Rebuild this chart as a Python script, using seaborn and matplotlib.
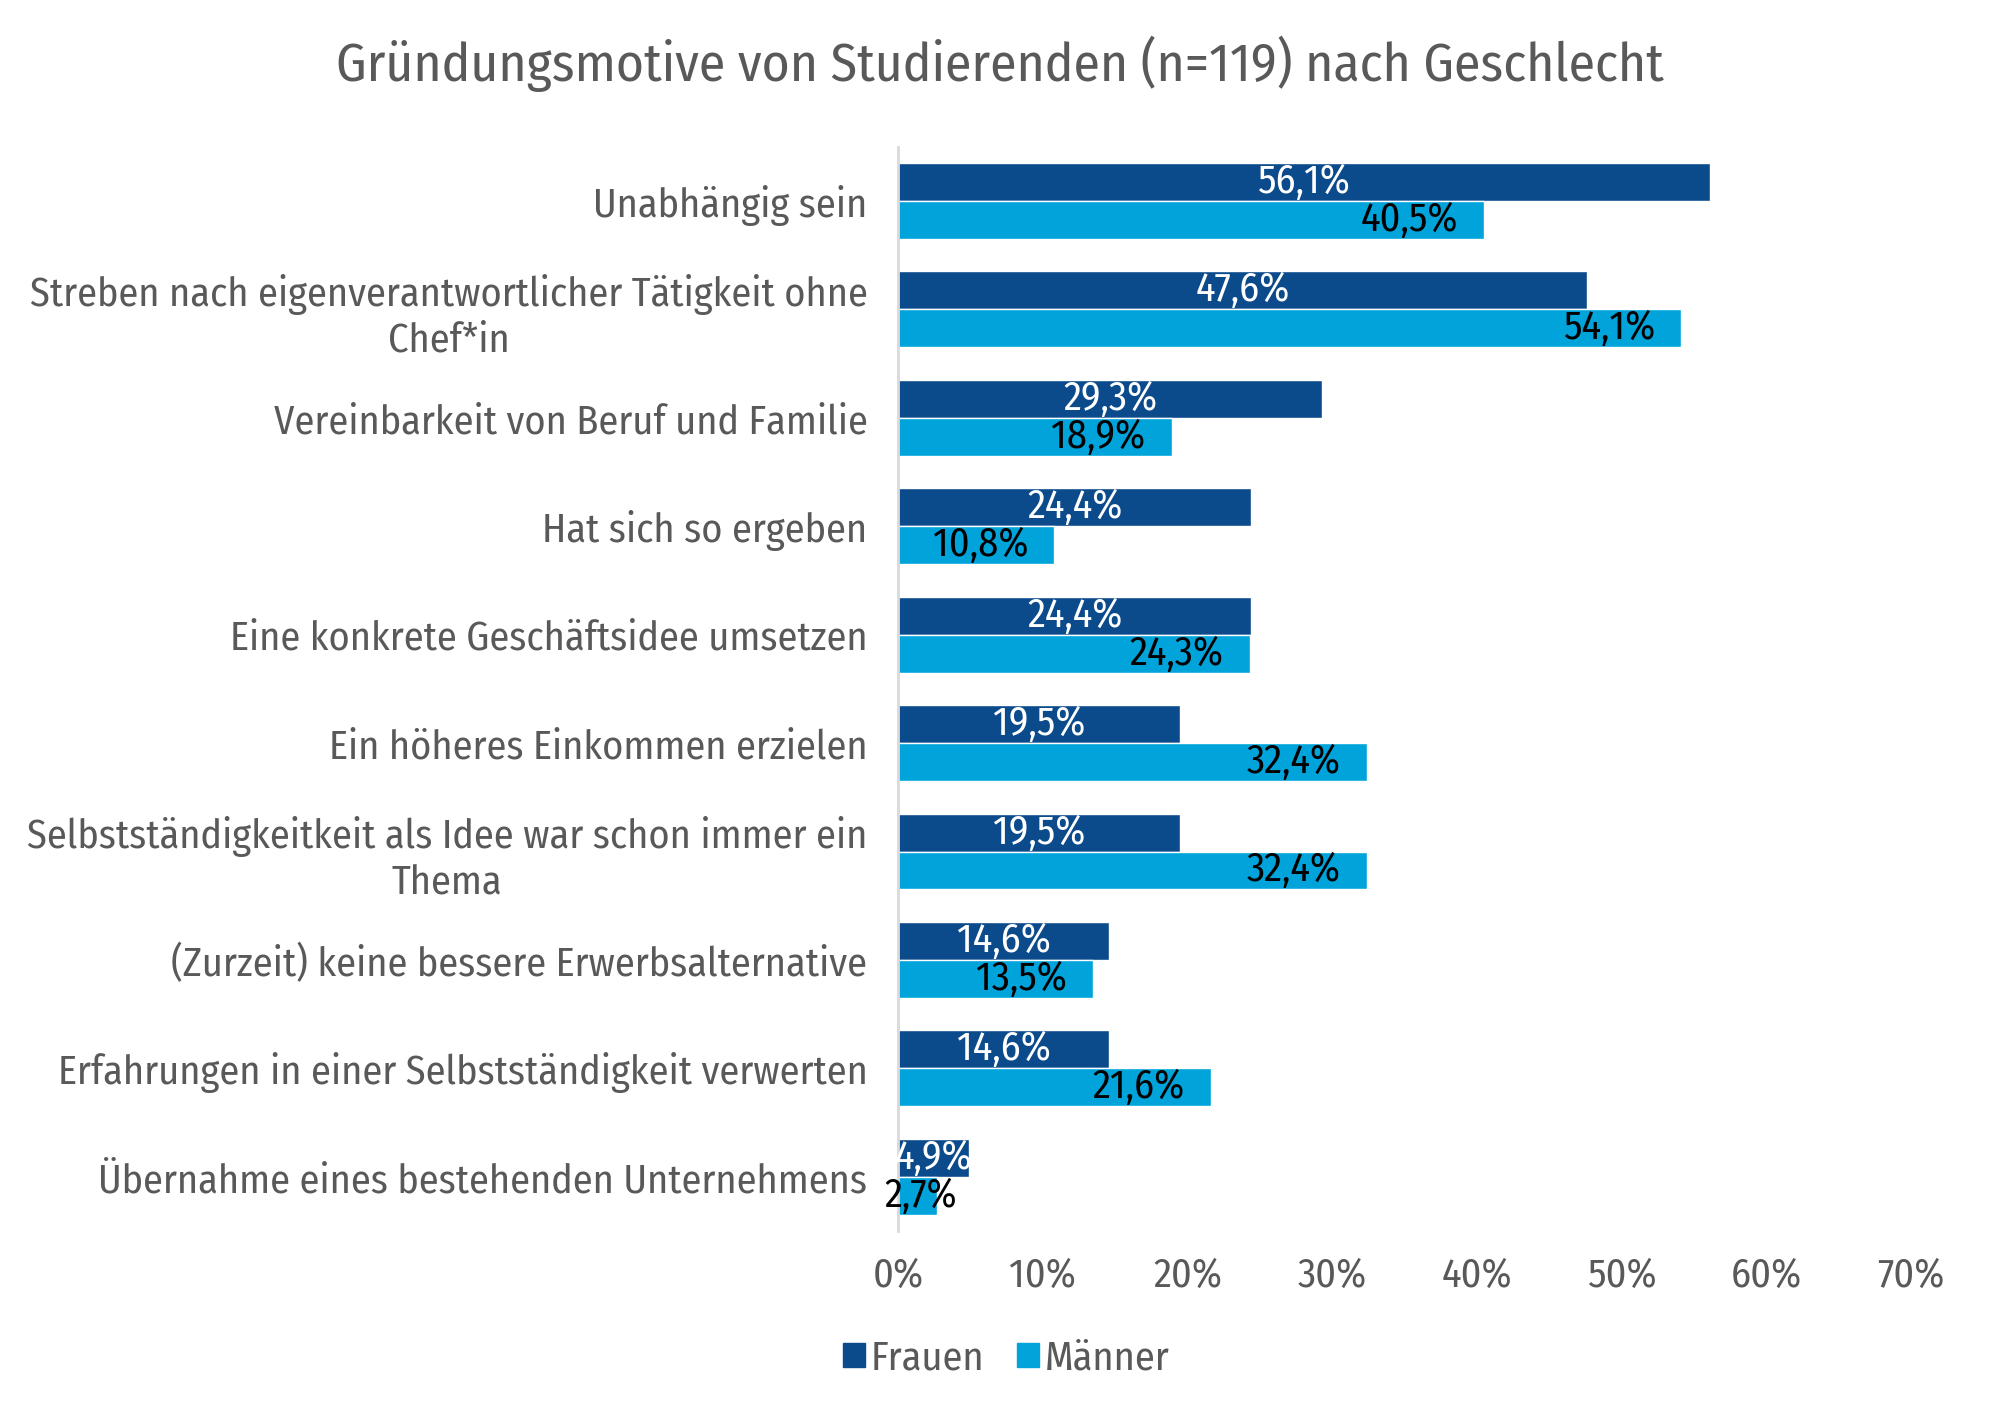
import matplotlib
matplotlib.use("Agg")
import matplotlib.pyplot as plt
from matplotlib import font_manager
import pandas as pd
import seaborn as sns

motive = [
    "Unabhängig sein",
    "Streben nach eigenverantwortlicher Tätigkeit ohne\nChef*in",
    "Vereinbarkeit von Beruf und Familie",
    "Hat sich so ergeben",
    "Eine konkrete Geschäftsidee umsetzen",
    "Ein höheres Einkommen erzielen",
    "Selbstständigkeitkeit als Idee war schon immer ein\nThema",
    "(Zurzeit) keine bessere Erwerbsalternative",
    "Erfahrungen in einer Selbstständigkeit verwerten",
    "Übernahme eines bestehenden Unternehmens",
]
frauen = [56.1, 47.6, 29.3, 24.4, 24.4, 19.5, 19.5, 14.6, 14.6, 4.9]
maenner = [40.5, 54.1, 18.9, 10.8, 24.3, 32.4, 32.4, 13.5, 21.6, 2.7]
x_ticks = [0, 10, 20, 30, 40, 50, 60, 70]

df = pd.DataFrame({"Motiv": motive * 2,
                   "Anteil": frauen + maenner,
                   "Geschlecht": ["Frauen"] * len(motive) + ["Männer"] * len(motive)})

sns.set_theme(style="white")
names = {f.name for f in font_manager.fontManager.ttflist}
candidates = ["Fira Sans Condensed", "Roboto Condensed", "PT Sans Narrow",
              "Open Sans Condensed", "Liberation Sans Narrow"]
family = next((c for c in candidates if c in names), "DejaVu Sans")
plt.rcParams["font.family"] = [family, "DejaVu Sans"]
scale = 1.0 if family != "DejaVu Sans" else 0.75
grey = "#595959"
colors = {"Frauen": "#0b4a8b", "Männer": "#00a3da"}

fig = plt.figure(figsize=(20, 14.21), dpi=100)
ax = fig.add_axes([0.449, 0.1337, 0.5065, 0.763])
sns.barplot(data=df, y="Motiv", x="Anteil", hue="Geschlecht", palette=colors,
            width=0.7, orient="h", ax=ax, legend=False, saturation=1)

fs = 29 * scale
ax.set_xlim(0, 70)
ax.set_ylim(9.5, -0.5)
ax.set_xticks(x_ticks)
ax.set_xticklabels([f"{t}%" for t in x_ticks], fontsize=fs, color=grey)
ax.tick_params(axis="y", labelsize=fs, labelcolor=grey, length=0, pad=22)
ax.tick_params(axis="x", length=0, pad=18)
for lab in ax.get_yticklabels():
    lab.set_multialignment("center")
ax.set_xlabel("")
ax.set_ylabel("")
for s in ["top", "right", "bottom"]:
    ax.spines[s].set_visible(False)
ax.spines["left"].set_color("#d9d9d9")
ax.spines["left"].set_linewidth(2)

fr_bars, ma_bars = ax.containers[0], ax.containers[1]
for bar, v in zip(fr_bars, frauen):
    ax.text(bar.get_width() / 2, bar.get_y() + bar.get_height() / 2,
            f"{v:.1f}%".replace(".", ","), color="white", fontsize=fs,
            ha="center", va="center")
for bar, v in zip(ma_bars, maenner):
    yc = bar.get_y() + bar.get_height() / 2
    txt = f"{v:.1f}%".replace(".", ",")
    if v > 6:
        ax.text(bar.get_width() - 1.8, yc, txt, color="black", fontsize=fs,
                ha="right", va="center")
    else:
        ax.text(bar.get_width() / 2 + 0.2, yc, txt, color="black", fontsize=fs,
                ha="center", va="center")

handles = [plt.Rectangle((0, 0), 1, 1, color=colors[k]) for k in colors]
fig.legend(handles, list(colors), loc="center", bbox_to_anchor=(0.503, 0.044),
           ncol=2, frameon=False, fontsize=fs, labelcolor=grey,
           handlelength=0.55, handleheight=0.55, handletextpad=0.15, columnspacing=0.8)

fig.suptitle("Gründungsmotive von Studierenden (n=119) nach Geschlecht",
             x=0.5, y=0.975, fontsize=38.5 * scale, color=grey)

fig.savefig("out.png", dpi=100, facecolor="white")
